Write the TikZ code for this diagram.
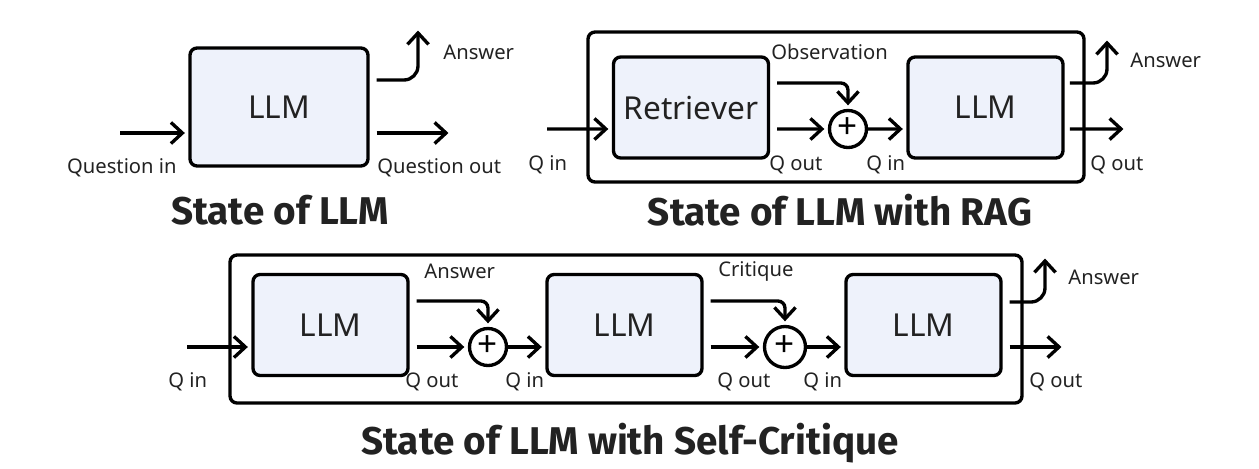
\documentclass[tikz,border=0pt]{standalone}
\usepackage{fontspec}
\setmainfont{Noto Sans}
\newfontfamily\titlefont{Fira Sans}
\usetikzlibrary{calc,positioning,arrows.meta}

\definecolor{boxfill}{HTML}{EEF2FB}
\definecolor{ink}{HTML}{222222}

\begin{document}
\begin{tikzpicture}[x=0.02cm, y=-0.02cm,
module/.style = {rectangle, draw=black, line width=1.9pt, rounded corners=4pt, fill=boxfill,
                 text=ink, font=\fontsize{18}{20}\selectfont, minimum width=3.1cm,
                 minimum height=2.02cm, inner sep=0pt},
frame/.style = {rectangle, draw=black, line width=1.9pt, rounded corners=4pt},
adder/.style = {circle, draw=black, line width=1.9pt, minimum size=0.74cm, inner sep=0pt,
                font=\fontsize{20}{20}\selectfont},
lbl/.style = {anchor=west, inner sep=0pt, text=ink, font=\fontsize{11.5}{13}\selectfont},
title/.style = {inner sep=0pt, text=ink, font=\titlefont\fontsize{22}{24}\selectfont\bfseries},
line/.style ={draw, line width=1.9pt, -{Straight Barb[length=6.5pt,width=12pt]}}]

\useasboundingbox (0,0) rectangle (1259,468);

% State of LLM
\node [module, minimum width=3.56cm, minimum height=2.36cm] (llmA) at (279,107) {LLM};
\coordinate (inA) at (120,133);
\coordinate (outA) at (452,133);
\coordinate (ansA) at (418,27);

% State of LLM with RAG
\draw [frame] (588,32) rectangle (1084,182);
\node [module] (retr) at (691,107.5) {Retriever};
\node [module] (llmB) at (985.5,107.5) {LLM};
\node [adder] (addB) at (848,129) {\raisebox{1pt}{+}};
\coordinate (inB) at (547,129);
\coordinate (outB) at (1127,129);
\coordinate (ansB) at (1107,37);

% State of LLM with Self-Critique
\draw [frame] (230,255) rectangle (1022,403);
\node [module] (llmC1) at (330.5,325) {LLM};
\node [module] (llmC2) at (624.5,325) {LLM};
\node [module] (llmC3) at (923.5,325) {LLM};
\node [adder] (addC1) at (488,347) {\raisebox{1pt}{+}};
\node [adder, minimum size=0.82cm] (addC2) at (785,347) {\raisebox{1pt}{+}};
\coordinate (inC) at (187,347);
\coordinate (outC) at (1065,347);
\coordinate (ansC) at (1045,255);

\begin{scope}[every path/.style=line, shorten >=2pt]
\path (inA) -- ($(llmA.west)+(0,26)$);
\path [shorten <=4pt] ($(llmA.east)+(0,26)$) -- (outA);
\path [shorten <=4pt, rounded corners=8pt] ($(llmA.east)+(0,-27)$) -| (ansA);

\path (inB) -- ($(retr.west)+(0,21.5)$);
\path [shorten <=4pt] ($(retr.east)+(0,21.5)$) -- (addB);
\path [shorten <=4pt, rounded corners=4pt] ($(retr.east)+(0,-24.5)$) -| (addB);
\path (addB) -- ($(llmB.west)+(0,21.5)$);
\path [shorten <=3pt] ($(llmB.east)+(0,21.5)$) -- (outB);
\path [shorten <=3pt, rounded corners=8pt] ($(llmB.east)+(0,-24.5)$) -| (ansB);

\path (inC) -- ($(llmC1.west)+(0,22)$);
\path [shorten <=4pt] ($(llmC1.east)+(0,22)$) -- (addC1);
\path [shorten <=4pt, rounded corners=4pt] ($(llmC1.east)+(0,-24)$) -| (addC1);
\path (addC1) -- ($(llmC2.west)+(0,22)$);
\path [shorten <=4pt] ($(llmC2.east)+(0,22)$) -- (addC2);
\path [shorten <=4pt, rounded corners=4pt] ($(llmC2.east)+(0,-24)$) -| (addC2);
\path (addC2) -- ($(llmC3.west)+(0,22)$);
\path [shorten <=4pt] ($(llmC3.east)+(0,22)$) -- (outC);
\path [shorten <=4pt, rounded corners=8pt] ($(llmC3.east)+(0,-23)$) -| (ansC);
\end{scope}

% labels
\node [lbl, anchor=east] (qinA) at (177,168) {Question in};
\node [lbl] (qoutA) at (377,168) {Question out};
\node [lbl] (ansAl) at (443,52) {Answer};
\node [title] (titA) at (280,210) {State of LLM};

\node [lbl] (qinB) at (528,165) {Q in};
\node [lbl] (qoutB1) at (769,165) {Q out};
\node [lbl] (qinB2) at (866,165) {Q in};
\node [lbl] (obsB) at (771,52) {Observation};
\node [lbl] (ansBl) at (1130,60) {Answer};
\node [lbl] (qoutB) at (1090,165) {Q out};
\node [title] (titB) at (840,210) {State of LLM with RAG};

\node [lbl] (qinC) at (168,382) {Q in};
\node [lbl] (ansC1l) at (424,271) {Answer};
\node [lbl] (qoutC1) at (405,382) {Q out};
\node [lbl] (qinC2) at (505,382) {Q in};
\node [lbl] (critC) at (718,271) {Critique};
\node [lbl] (qoutC2) at (717,382) {Q out};
\node [lbl] (qinC3) at (803,382) {Q in};
\node [lbl] (ansC3l) at (1068,277) {Answer};
\node [lbl] (qoutC3) at (1029,382) {Q out};
\node [title] (titC) at (630,443) {State of LLM with Self-Critique};
\end{tikzpicture}
\end{document}
